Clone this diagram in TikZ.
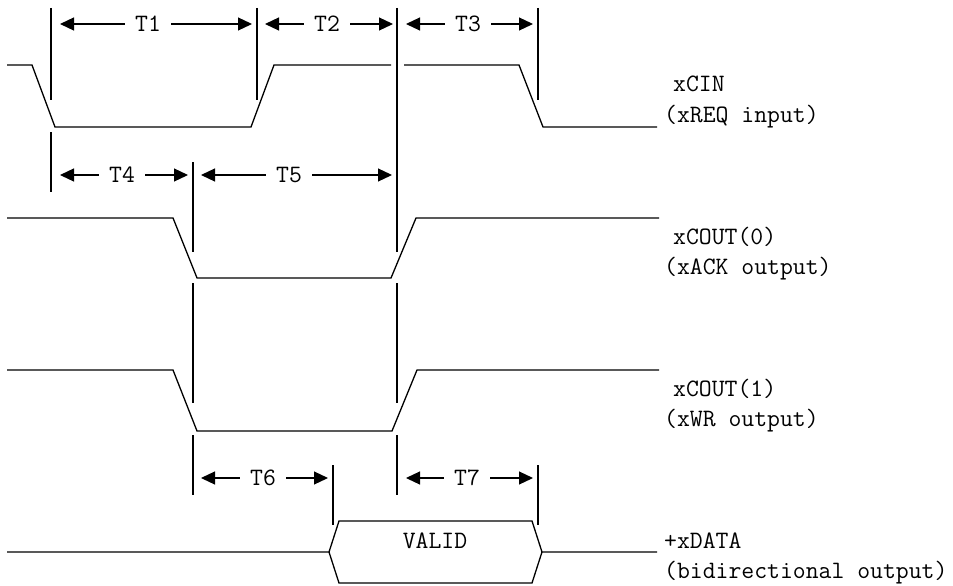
\documentclass[tikz,border=0pt]{standalone}
\usetikzlibrary{arrows.meta}
\tikzset{
  sig/.style={line width=1.3pt},
  marker/.style={line width=1.3pt},
  dimarrow/.style={line width=1.2pt,-{Triangle[length=14pt,width=13pt]}},
  tlab/.style={font=\fontsize{25}{29}\selectfont\ttfamily, inner xsep=10pt, inner ysep=0pt},
  signame/.style={font=\fontsize{25}{29}\selectfont\ttfamily, anchor=base west, inner sep=0pt}
}
\begin{document}
\begin{tikzpicture}[x=1pt,y=-1pt]
\useasboundingbox (0,0) rectangle (953,586);
% marker lines
\foreach \xx/\ya/\yb in {51/8/100, 51/132/192, 257/8/100, 538/8/100,
   397/8/252, 397/283/403, 397/435/495,
   193/162/252, 193/283/403, 193/435/495,
   333/465/525, 538/465/525}
{
\draw[marker] (\xx,\ya) -- (\xx,\yb);
}
% timing intervals
\foreach \xl/\xr/\xm/\yy/\lab in {60/252/148/24/T1, 265/393/327/24/T2, 406/533/468/24/T3,
   60/188/122/175/T4, 201/392/289/175/T5, 201/328/263/478/T6, 406/533/467/478/T7}
{
\node[tlab] (\lab) at (\xm,\yy) {\lab};
\coordinate (\lab l) at (\xl,\yy);
\coordinate (\lab r) at (\xr,\yy);
\draw[dimarrow] (\lab) -- (\lab l);
\draw[dimarrow] (\lab) -- (\lab r);
}
% xCIN
\draw[sig] (7,65) -- (32,65) -- (55,127) -- (251,127) -- (274,65) -- (391,65);
\draw[sig] (404,65) -- (519,65) -- (543,127) -- (657,127);
% xCOUT(0)
\draw[sig] (7,218) -- (173,218) -- (197,278) -- (391,278) -- (416,218) -- (659,218);
% xCOUT(1)
\draw[sig] (7,370) -- (173,370) -- (197,431) -- (392,431) -- (417,370) -- (659,370);
% xDATA
\draw[sig] (7,552) -- (329,552) -- (339,521) -- (532,521) -- (542,552) -- (657,552);
\draw[sig] (329,552) -- (339,583) -- (532,583) -- (542,552);
\node[signame, anchor=base] (valid) at (435,548) {VALID};
% signal names
\node[signame] (cin) at (673,92) {xCIN};
\node[signame] (cinsub) at (664,122) {(xREQ input)};
\node[signame] (cout0) at (673,244) {xCOUT(0)};
\node[signame] (cout0sub) at (664,274) {(xACK output)};
\node[signame] (cout1) at (673,396) {xCOUT(1)};
\node[signame] (cout1sub) at (664,426) {(xWR output)};
\node[signame] (data) at (664,548) {+xDATA};
\node[signame] (datasub) at (664,578) {(bidirectional output)};
\end{tikzpicture}
\end{document}
